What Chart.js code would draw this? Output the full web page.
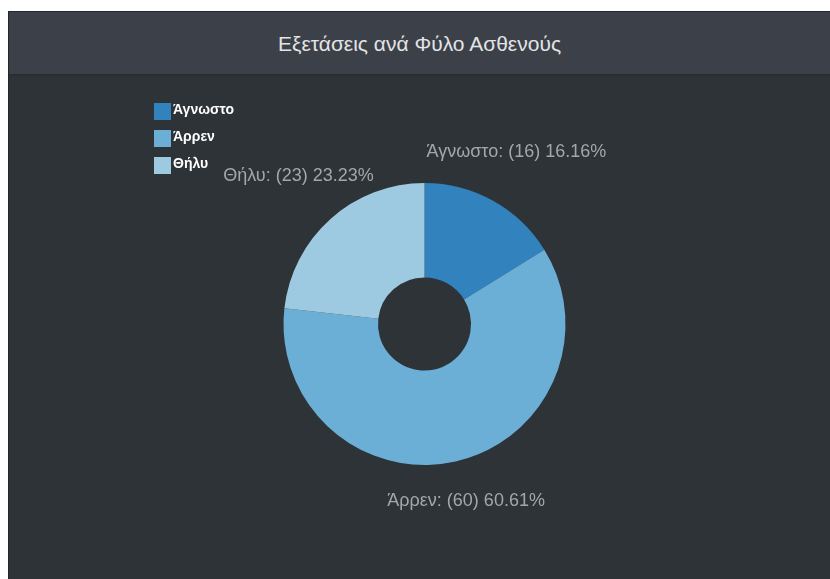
<!DOCTYPE html>
<html>
<head>
<meta charset="utf-8">
<script src="https://cdn.jsdelivr.net/npm/chart.js@4.4.0/dist/chart.umd.min.js"></script>
<style>
  html, body { margin: 0; padding: 0; background: #ffffff; }
  .panel {
    position: absolute; left: 8px; top: 11px; width: 822px; height: 568px;
    background: #2e3338; border-left: 1px solid #23272b; border-top: 1px solid #23272b;
    box-sizing: border-box; overflow: hidden;
  }
  .panel-head {
    height: 64px; background: #3c4048; border-bottom: 2px solid #2a2e33;
    color: #e2e4e6; font: 21px "Liberation Sans", Arial, sans-serif;
    text-align: center; line-height: 64px; box-sizing: border-box;
  }
  .panel-body { position: relative; width: 821px; height: 503px; }
</style>
</head>
<body>
<div class="panel">
  <div class="panel-head">Εξετάσεις ανά Φύλο Ασθενούς</div>
  <div class="panel-body"><canvas id="gender"></canvas></div>
</div>
<script>
// Exams per patient gender
const genderLabels = ['Άγνωστο', 'Άρρεν', 'Θήλυ'];
const genderCounts = [16, 60, 23];
const genderColors = ['#3182bd', '#6baed6', '#9ecae1'];

const FONT = '"Liberation Sans", Arial, sans-serif';

// Legend in the upper-left corner: small squares with white names
const cornerLegend = {
    id: 'cornerLegend',
    afterDraw(chart) {
        const ctx = chart.ctx;
        ctx.save();
        ctx.font = 'bold 14px ' + FONT;
        ctx.textBaseline = 'middle';
        ctx.textAlign = 'left';
        genderLabels.forEach((label, i) => {
            const x = 145, y = 27 + i * 27;
            ctx.fillStyle = genderColors[i];
            ctx.fillRect(x, y, 17, 17);
            ctx.fillStyle = '#ffffff';
            ctx.fillText(label, x + 19, y + 7);
        });
        ctx.restore();
    }
};

// Outside labels: "name: (count) pct%" along each slice's middle angle
const sliceLabels = {
    id: 'sliceLabels',
    afterDatasetsDraw(chart) {
        const ctx = chart.ctx;
        const meta = chart.getDatasetMeta(0);
        const total = genderCounts.reduce((a, b) => a + b, 0);
        ctx.save();
        ctx.font = '18px ' + FONT;
        ctx.fillStyle = '#a3a7ab';
        ctx.textAlign = 'center';
        ctx.textBaseline = 'middle';
        meta.data.forEach((arc, i) => {
            const mid = (arc.startAngle + arc.endAngle) / 2;
            const r = arc.outerRadius * 1.34;
            const x = arc.x + Math.cos(mid) * r;
            const y = arc.y + Math.sin(mid) * r - 7;
            const pct = (genderCounts[i] / total * 100).toFixed(2);
            ctx.fillText(genderLabels[i] + ': (' + genderCounts[i] + ') ' + pct + '%', x, y);
        });
        ctx.restore();
    }
};

new Chart(document.getElementById('gender'), {
    type: 'doughnut',
    data: {
        labels: genderLabels,
        datasets: [{
            data: genderCounts,
            backgroundColor: genderColors,
            borderWidth: 0
        }]
    },
    options: {
        responsive: true,
        maintainAspectRatio: false,
        animation: false,
        cutout: '33%',
        layout: { padding: { top: 107, bottom: 114, left: 10, right: 0 } },
        plugins: {
            legend: { display: false },
            title: { display: false },
            tooltip: { enabled: false }
        }
    },
    plugins: [cornerLegend, sliceLabels]
});
</script>
</body>
</html>
